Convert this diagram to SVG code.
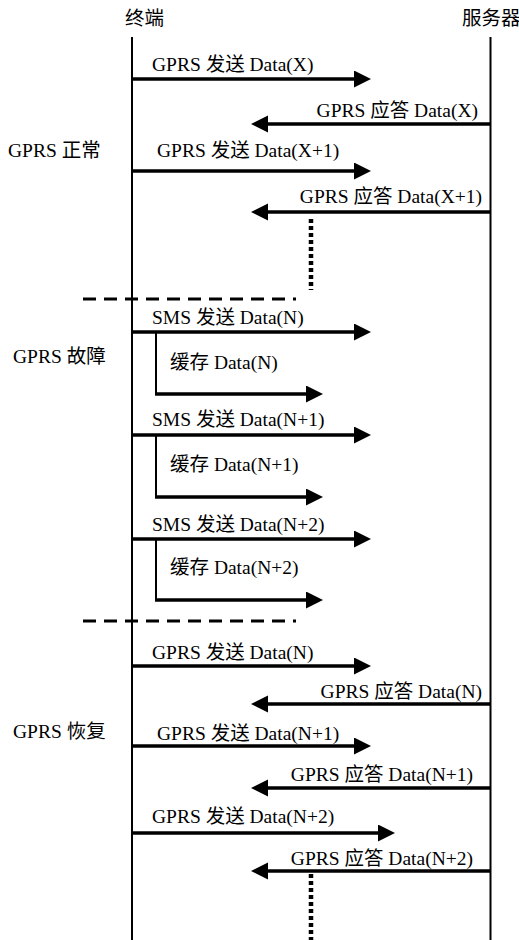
<svg xmlns="http://www.w3.org/2000/svg" width="519" height="940" viewBox="0 0 519 940">
<style>
text{font-family:"Liberation Serif","Noto Sans CJK SC",serif;font-size:19.5px;fill:#000}
.ll{stroke:#000;stroke-width:2;fill:none}
.msg{stroke:#000;stroke-width:3.5;fill:none;marker-end:url(#ah)}
.br{stroke:#000;stroke-width:2;fill:none}
.dash{stroke:#000;stroke-width:3;stroke-dasharray:13 8}
.dot{stroke:#000;stroke-width:4.5;stroke-dasharray:4 3}
.r{text-anchor:end}
</style>
<defs>
<marker id="ah" markerUnits="userSpaceOnUse" markerWidth="18" markerHeight="18" refX="5" refY="8.5" orient="auto">
<path d="M0,0 L17,8.5 L0,17 z" fill="#000"/>
</marker>
</defs>
<rect width="519" height="940" fill="#fff"/>
<g id="terminal"><text x="125" y="25">终端</text><line class="ll" x1="132" y1="37" x2="132" y2="940"/></g>
<g id="server"><text x="462" y="25">服务器</text><line class="ll" x1="490.5" y1="37" x2="490.5" y2="940"/></g>
<g id="phase-normal"><text x="8" y="157">GPRS 正常</text></g>
<g id="phase-fault"><text x="13" y="363">GPRS 故障</text></g>
<g id="phase-recover"><text x="13" y="738">GPRS 恢复</text></g>
<g id="separators">
<line class="dash" x1="83" y1="299" x2="296" y2="299"/>
<line class="dash" x1="83" y1="621" x2="296" y2="621"/>
<line class="dot" x1="311" y1="219" x2="311" y2="290"/>
<line class="dot" x1="311" y1="874" x2="311" y2="940"/>
</g>
<g id="connectors">
<line class="msg" x1="132" y1="79" x2="359" y2="79"/>
<text x="152" y="71">GPRS 发送 Data(X)</text>
<line class="msg" x1="490" y1="124" x2="263" y2="124"/>
<text class="r" x="478" y="117">GPRS 应答 Data(X)</text>
<line class="msg" x1="132" y1="171" x2="359" y2="171"/>
<text x="157" y="157">GPRS 发送 Data(X+1)</text>
<line class="msg" x1="490" y1="212" x2="263" y2="212"/>
<text class="r" x="482" y="203">GPRS 应答 Data(X+1)</text>

<line class="msg" x1="132" y1="332" x2="359" y2="332"/>
<text x="152" y="324">SMS 发送 Data(N)</text>
<line class="br" x1="156" y1="332" x2="156" y2="395"/>
<line class="msg" x1="155" y1="394" x2="311" y2="394"/>
<text x="170" y="369">缓存 Data(N)</text>

<line class="msg" x1="132" y1="435" x2="359" y2="435"/>
<text x="152" y="426">SMS 发送 Data(N+1)</text>
<line class="br" x1="156" y1="435" x2="156" y2="498"/>
<line class="msg" x1="155" y1="497" x2="311" y2="497"/>
<text x="170" y="471">缓存 Data(N+1)</text>

<line class="msg" x1="132" y1="539" x2="359" y2="539"/>
<text x="152" y="531">SMS 发送 Data(N+2)</text>
<line class="br" x1="156" y1="539" x2="156" y2="601"/>
<line class="msg" x1="155" y1="600" x2="311" y2="600"/>
<text x="170" y="574">缓存 Data(N+2)</text>

<line class="msg" x1="132" y1="666" x2="359" y2="666"/>
<text x="152" y="659">GPRS 发送 Data(N)</text>
<line class="msg" x1="490" y1="704" x2="263" y2="704"/>
<text class="r" x="482" y="698">GPRS 应答 Data(N)</text>
<line class="msg" x1="132" y1="746" x2="359" y2="746"/>
<text x="157" y="740">GPRS 发送 Data(N+1)</text>
<line class="msg" x1="490" y1="788" x2="263" y2="788"/>
<text class="r" x="473" y="781">GPRS 应答 Data(N+1)</text>
<line class="msg" x1="132" y1="833" x2="383" y2="833"/>
<text x="152" y="823">GPRS 发送 Data(N+2)</text>
<line class="msg" x1="490" y1="871" x2="263" y2="871"/>
<text class="r" x="473" y="865">GPRS 应答 Data(N+2)</text>
</g>
</svg>
